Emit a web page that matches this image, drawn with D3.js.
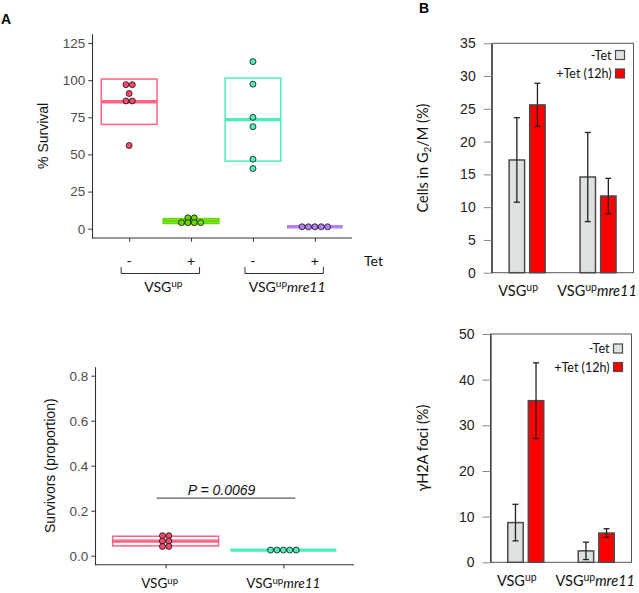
<!DOCTYPE html>
<html>
<head>
<meta charset="utf-8">
<script src="https://cdn.jsdelivr.net/npm/d3@7"></script>
<style>
  html, body { margin: 0; padding: 0; background: #fff; }
  svg { display: block; }
  text { font-family: "Liberation Sans", Arial, sans-serif; }
  .cal { font-family: Lato, "Open Sans", sans-serif; }
</style>
</head>
<body>
<svg id="chart" width="639" height="593"></svg>
<script>
// ---------------- DATA ----------------
// Panel A (top): % survival
const survivalGroups = ["VSGup -Tet", "VSGup +Tet", "VSGupmre11 -Tet", "VSGupmre11 +Tet"];
const tetLabels = ["-", "+", "-", "+"];
const survivalVSGupMinus = [97, 97, 91, 86, 86, 56];
const survivalVSGupPlus = [7.3, 7.3, 4.1, 4.1, 4.1, 4.1];
const survivalMre11Minus = [112.5, 97.3, 75, 68.7, 46.8, 40.5];
const survivalMre11Plus = [1.3, 1.3, 1.3, 1.3, 1.3];
const survivalTicks = [0, 25, 50, 75, 100, 125];

// Panel A (bottom): survivors proportion
const strains = ["VSGup", "VSGupmre11"];
const proportionVSGup = [0.089, 0.089, 0.065, 0.065, 0.041, 0.041];
const proportionMre11 = [0.025, 0.025, 0.025, 0.025, 0.025];
const proportionTicks = [0, 0.2, 0.4, 0.6, 0.8];
const pValueLabel = "P = 0.0069";

// Panel B: bar charts
const seriesB = ["-Tet", "+Tet (12h)"];
const g2mMinusTet = [17.2, 14.6];
const g2mMinusTetSD = [6.45, 6.8];
const g2mPlusTet = [25.6, 11.7];
const g2mPlusTetSD = [3.3, 2.7];
const g2mTicks = [0, 5, 10, 15, 20, 25, 30, 35];

const h2aMinusTet = [8.7, 2.5];
const h2aMinusTetSD = [4.0, 1.9];
const h2aPlusTet = [35.4, 6.4];
const h2aPlusTetSD = [8.3, 0.95];
const h2aTicks = [0, 10, 20, 30, 40, 50];

// ---------------- STYLE ----------------
const survivalColors = ["#FF6384", "#66D900", "#4DEDBD", "#B380F2"];
const survivalPointColors = ["#F04A6C", "#66D900", "#4DEDBD", "#B380F2"];
const strainColors = ["#FF6384", "#4DEDBD"];
const strainPointColors = ["#F04A6C", "#4DEDBD"];
const barColors = ["#DDE1E0", "#FF0000"];

const svg = d3.select("#chart");
const R = 3; // dot radius
const tickText = "#4D4D4D";
const axisCol = "#333";

// helpers
function meanSD(arr) {
  const m = d3.mean(arr);
  const s = arr.length > 1 ? d3.deviation(arr) : 0;
  return [m, s];
}
function stackDots(values) {
  const rows = d3.groups(values, v => v);
  const out = [];
  rows.forEach(([v, items]) => {
    const n = items.length;
    items.forEach((_, i) => out.push({ v, off: (i - (n - 1) / 2) * (2 * R + 0.4) }));
  });
  return out;
}
function strainLabel(sel, name, x, y, size) {
  const t = sel.append("text").attr("class", "cal").attr("x", x).attr("y", y)
    .attr("text-anchor", "middle").attr("font-size", size).attr("fill", "#111");
  t.append("tspan").text("VSG");
  t.append("tspan").attr("font-size", size * 0.72).attr("dy", -size * 0.33).text("up");
  if (name.includes("mre11")) {
    t.append("tspan").attr("font-style", "italic").attr("dy", size * 0.33).text("mre11");
  }
  return t;
}
function crossbar(g, x, w, vals, yScale, col, ptCol) {
  const [m, s] = meanSD(vals);
  g.append("rect")
    .attr("x", x - w / 2).attr("width", w)
    .attr("y", yScale(m + s)).attr("height", Math.max(0, yScale(m - s) - yScale(m + s)))
    .attr("fill", "none").attr("stroke", col).attr("stroke-width", 1.5);
  g.append("line")
    .attr("x1", x - w / 2).attr("x2", x + w / 2)
    .attr("y1", yScale(m)).attr("y2", yScale(m))
    .attr("stroke", col).attr("stroke-width", 3.4);
  g.selectAll(null).data(stackDots(vals)).join("circle")
    .attr("cx", d => x + d.off).attr("cy", d => yScale(d.v)).attr("r", R)
    .attr("fill", ptCol).attr("stroke", "#111").attr("stroke-width", 0.8);
}
function styleLeftAxis(g) {
  g.selectAll(".domain").attr("stroke", axisCol).attr("stroke-width", 1.1);
  g.selectAll(".tick line").attr("stroke", axisCol);
  g.selectAll(".tick text").attr("fill", tickText).attr("font-size", 13.5)
    .attr("font-family", "Liberation Sans, Arial, sans-serif");
}

// ---------------- PANEL LABELS ----------------
svg.append("text").attr("x", 1).attr("y", 24).attr("font-weight", "bold").attr("font-size", 14).text("A");
svg.append("text").attr("x", 419).attr("y", 13).attr("font-weight", "bold").attr("font-size", 14).text("B");

// ---------------- PANEL A TOP ----------------
(function () {
  const left = 92, right = 352, bottom = 238;
  const pad = 125 * 0.05;
  const y = d3.scaleLinear().domain([-pad, 125 + pad]).range([bottom, 33.75]);
  const x = d3.scalePoint().domain(survivalGroups).range([left, right]).padding(0.6);
  const g = svg.append("g");

  const ya = g.append("g").attr("transform", `translate(${left},0)`)
    .call(d3.axisLeft(y).tickValues(survivalTicks).tickSize(3.7).tickSizeOuter(0).tickPadding(3));
  styleLeftAxis(ya);
  const xa = g.append("g").attr("transform", `translate(0,${bottom})`)
    .call(d3.axisBottom(x).tickSize(3.7).tickSizeOuter(0).tickFormat(""));
  xa.selectAll(".domain").attr("stroke", axisCol).attr("stroke-width", 1.1);
  xa.selectAll(".tick line").attr("stroke", axisCol);
  xa.select(".domain").attr("d", `M${left},0H${right}`);

  g.append("text").attr("transform", `translate(48,${(bottom + 33.75) / 2}) rotate(-90)`)
    .attr("text-anchor", "middle").attr("font-size", 14).attr("fill", "#111").text("% Survival");

  const sets = [survivalVSGupMinus, survivalVSGupPlus, survivalMre11Minus, survivalMre11Plus];
  const w = x.step() * 0.9;
  sets.forEach((vals, i) => crossbar(g, x(survivalGroups[i]), w, vals, y, survivalColors[i], survivalPointColors[i]));

  g.selectAll(".tet").data(survivalGroups).join("text").attr("class", "cal")
    .attr("x", d => x(d)).attr("y", 260).attr("dominant-baseline", "central")
    .attr("text-anchor", "middle").attr("font-size", 14).attr("fill", "#111")
    .text((d, i) => tetLabels[i]);
  g.append("text").attr("class", "cal").attr("x", 364).attr("y", 260).attr("dominant-baseline", "central")
    .attr("font-size", 14).attr("fill", "#111").text("Tet");

  strains.forEach((s, j) => {
    const x1 = x(survivalGroups[2 * j]) - 8, x2 = x(survivalGroups[2 * j + 1]) + 8.5;
    g.append("path").attr("d", `M${x1},267V273.5H${x2}V267`)
      .attr("fill", "none").attr("stroke", axisCol).attr("stroke-width", 1);
    strainLabel(g, s, (x1 + x2) / 2 + 3, 291.5, 14);
  });
})();

// ---------------- PANEL A BOTTOM ----------------
(function () {
  const left = 95, right = 354, bottom = 564.7;
  const pad = 0.8 * 0.05;
  const y = d3.scaleLinear().domain([-pad, 0.8 + pad]).range([bottom, 366.7]);
  const x = d3.scalePoint().domain(strains).range([left, right]).padding(0.6);
  const g = svg.append("g");

  const ya = g.append("g").attr("transform", `translate(${left},0)`)
    .call(d3.axisLeft(y).tickValues(proportionTicks).tickFormat(d3.format(".1f"))
      .tickSize(3.7).tickSizeOuter(0).tickPadding(3));
  styleLeftAxis(ya);
  const xa = g.append("g").attr("transform", `translate(0,${bottom})`)
    .call(d3.axisBottom(x).tickSize(3.7).tickSizeOuter(0).tickFormat(""));
  xa.selectAll(".domain").attr("stroke", axisCol).attr("stroke-width", 1.1);
  xa.selectAll(".tick line").attr("stroke", axisCol);
  xa.select(".domain").attr("d", `M${left},0H${right}`);

  g.append("text").attr("transform", `translate(55,${(bottom + 366.7) / 2}) rotate(-90)`)
    .attr("text-anchor", "middle").attr("font-size", 14).attr("fill", "#111").text("Survivors (proportion)");

  const sets = [proportionVSGup, proportionMre11];
  const w = x.step() * 0.9;
  sets.forEach((vals, i) => crossbar(g, x(strains[i]), w, vals, y, strainColors[i], strainPointColors[i]));

  strains.forEach((s, i) => strainLabel(g, s, x(s) - (i === 0 ? 6 : 0), 588, 13.5));

  const yl = y(0.256);
  g.append("line").attr("x1", x(strains[0]) - 9).attr("x2", x(strains[1]) + 12)
    .attr("y1", yl).attr("y2", yl).attr("stroke", "#333").attr("stroke-width", 1);
  g.append("text").attr("x", (x(strains[0]) + x(strains[1])) / 2 - 3).attr("y", yl - 3.5)
    .attr("text-anchor", "middle").attr("font-size", 14).attr("font-style", "italic").attr("fill", "#111")
    .text(pValueLabel);
})();

// ---------------- PANEL B ----------------
function barPanel(opts) {
  const { left, right, top, bottom, max, ticks, minus, minusSD, plus, plusSD, legendY, yLabel, labelY } = opts;
  const g = svg.append("g");
  const y = d3.scaleLinear().domain([0, max]).range([bottom, top]);
  const x0 = d3.scaleBand().domain(strains).range([left, right]).padding(0);
  const x1 = d3.scaleBand().domain(seriesB).range([-18, 18]).paddingInner(0.25).paddingOuter(0);

  g.append("rect").attr("x", left).attr("y", top).attr("width", right - left).attr("height", bottom - top)
    .attr("fill", "none").attr("stroke", "#555").attr("stroke-width", 1);

  const ya = g.append("g").attr("transform", `translate(${left},0)`)
    .call(d3.axisLeft(y).tickValues(ticks).tickSize(8).tickSizeOuter(0).tickPadding(8));
  ya.selectAll(".domain").attr("stroke", "#333").attr("stroke-width", 1.2);
  ya.selectAll(".tick line").attr("stroke", "#888");
  ya.selectAll(".tick text").attr("fill", "#222").attr("font-size", 14)
    .attr("font-family", "Lato, 'Open Sans', sans-serif");

  const data = [];
  strains.forEach((s, i) => {
    data.push({ s, k: seriesB[0], v: minus[i], sd: minusSD[i], c: barColors[0] });
    data.push({ s, k: seriesB[1], v: plus[i], sd: plusSD[i], c: barColors[1] });
  });
  const bw = x1.bandwidth();
  const cx = d => x0(d.s) + x0.bandwidth() / 2 + x1(d.k) + bw / 2;
  g.selectAll(".bar").data(data).join("rect")
    .attr("x", d => cx(d) - bw / 2).attr("width", bw)
    .attr("y", d => y(d.v)).attr("height", d => y(0) - y(d.v))
    .attr("fill", d => d.c).attr("stroke", "#4a4a4a").attr("stroke-width", 1.5);
  const eb = g.selectAll(".err").data(data).join("g").attr("stroke", "#222").attr("stroke-width", 1.3);
  eb.append("line").attr("x1", cx).attr("x2", cx).attr("y1", d => y(d.v - d.sd)).attr("y2", d => y(d.v + d.sd));
  eb.append("line").attr("x1", d => cx(d) - 3).attr("x2", d => cx(d) + 3).attr("y1", d => y(d.v - d.sd)).attr("y2", d => y(d.v - d.sd));
  eb.append("line").attr("x1", d => cx(d) - 3).attr("x2", d => cx(d) + 3).attr("y1", d => y(d.v + d.sd)).attr("y2", d => y(d.v + d.sd));

  seriesB.forEach((k, i) => {
    const ly = legendY + i * 18.5;
    g.append("rect").attr("x", right - 18).attr("y", ly).attr("width", 9).attr("height", 9)
      .attr("fill", barColors[i]).attr("stroke", "#4a4a4a").attr("stroke-width", 1.2);
    g.append("text").attr("class", "cal").attr("x", right - 22).attr("y", ly + 9)
      .attr("text-anchor", "end").attr("font-size", 12.5).attr("fill", "#111").text(k);
  });

  strains.forEach((s, i) => strainLabel(g, s, x0(s) + x0.bandwidth() / 2 - (i === 0 ? 9 : 1), labelY, 14.5));

  yLabel(g, 428, (top + bottom) / 2);
}

barPanel({
  left: 491.7, right: 633.5, top: 43.3, bottom: 272.7, max: 35, ticks: g2mTicks,
  minus: g2mMinusTet, minusSD: g2mMinusTetSD, plus: g2mPlusTet, plusSD: g2mPlusTetSD,
  legendY: 50.5, labelY: 296,
  yLabel: (g, x, y) => {
    const t = g.append("text").attr("class", "cal").attr("transform", `translate(${x},${y}) rotate(-90)`)
      .attr("text-anchor", "middle").attr("font-size", 14.5).attr("fill", "#111");
    t.append("tspan").text("Cells in G");
    t.append("tspan").attr("font-size", 10).attr("dy", 3).text("2");
    t.append("tspan").attr("dy", -3).text("/M (%)");
  }
});

barPanel({
  left: 490.5, right: 631.5, top: 334, bottom: 562.3, max: 50, ticks: h2aTicks,
  minus: h2aMinusTet, minusSD: h2aMinusTetSD, plus: h2aPlusTet, plusSD: h2aPlusTetSD,
  legendY: 344, labelY: 586,
  yLabel: (g, x, y) => {
    g.append("text").attr("class", "cal").attr("transform", `translate(${x},${y}) rotate(-90)`)
      .attr("text-anchor", "middle").attr("font-size", 14.5).attr("fill", "#111").text("γH2A foci (%)");
  }
});
</script>
</body>
</html>
